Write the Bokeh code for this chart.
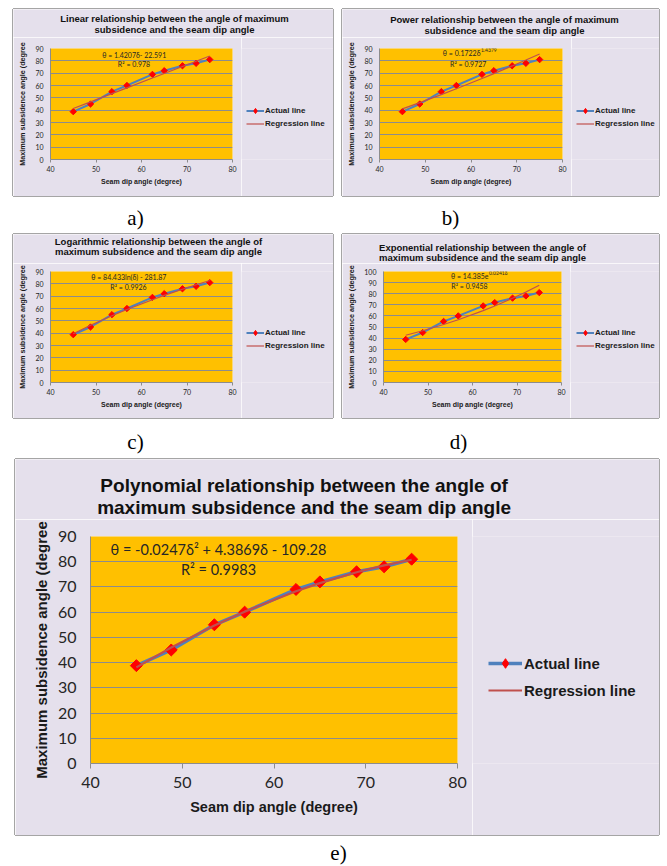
import math
from bokeh.plotting import figure
from bokeh.models import Range1d, FixedTicker, Label, Legend, LegendItem, Spacer, ColumnDataSource
from bokeh.layouts import column, row
from bokeh.embed import file_html
from bokeh.resources import INLINE

# ---------------- data ----------------
seam_dip = [45.0, 48.8, 53.5, 56.8, 62.4, 65.0, 69.0, 72.0, 75.0]
max_subsidence = [38.8, 45.0, 55.0, 60.0, 69.0, 72.0, 76.0, 78.0, 81.0]

# trend-line values at the same dip angles (from the equations shown on each chart)
reg_linear = [41.34, 46.74, 53.42, 58.11, 66.06, 69.75, 75.44, 79.70, 83.96]
reg_power = [41.04, 46.11, 52.63, 57.36, 65.66, 69.63, 75.87, 80.66, 85.54]
reg_log = [39.54, 46.38, 54.15, 59.20, 67.14, 70.59, 75.63, 79.22, 82.67]
reg_exp = [42.55, 46.63, 52.22, 56.55, 64.72, 68.91, 75.88, 81.57, 87.68]
reg_poly = [38.11, 45.98, 54.72, 60.21, 68.28, 71.51, 75.82, 78.54, 80.80]

x_ticks = [40, 50, 60, 70, 80]
y_ticks_90 = [0, 10, 20, 30, 40, 50, 60, 70, 80, 90]
y_ticks_100 = [0, 10, 20, 30, 40, 50, 60, 70, 80, 90, 100]

titles_a = ["Linear relationship between the angle of maximum", "subsidence and the seam dip angle"]
titles_b = ["Power relationship between the angle of maximum", "subsidence and the seam dip angle"]
titles_c = ["Logarithmic relationship between the angle of", "maximum subsidence and the seam dip angle"]
titles_d = ["Exponential relationship between the angle of", "maximum subsidence and the seam dip angle"]
titles_e = ["Polynomial relationship between the angle of", "maximum subsidence and the seam dip angle"]

x_label = "Seam dip angle (degree)"
y_label = "Maximum subsidence angle (degree"
legend_labels = ["Actual line", "Regression line"]
captions = ["a)", "b)", "c)", "d)", "e)"]

# ---------------- styles ----------------
YELLOW = "#FFC000"
LAVENDER = "#E5E0EC"
GRID = "#8C8C8C"
BLUE = "#4F81BD"
RED = "#FF0000"
REG = "#C0504D"
EDGE = "#A5A5A5"
SANS = "Liberation Sans"
TICKF = "Lato"
SERIF = "Liberation Serif"


def build(panel, frame, title_h, plot_right, ymax, yticks, reg, titles, title_pos, eqs,
          legend_pos, big):
    PL, PT, PW, PH = panel
    FL, FT, FR, FB = frame
    # ---------- title strip: page pixels used as data coordinates
    tf = figure(width=PW, height=title_h, x_range=Range1d(PL, PL + PW),
                y_range=Range1d(PT + title_h, PT), x_axis_type=None, y_axis_type=None,
                min_border=0, toolbar_location=None, output_backend="svg", title=None,
                outline_line_color=None, background_fill_color=LAVENDER,
                border_fill_color=LAVENDER,
                styles={"box-shadow": f"-1px 0 0 0 {EDGE}, 1px 0 0 0 {EDGE}, 0 -1px 0 0 {EDGE}"})
    tf.xgrid.visible = False
    tf.ygrid.visible = False
    tfs = "19px" if big else "9.5px"
    for txt, (X, Y) in zip(titles, title_pos):
        tf.add_layout(Label(x=X, y=Y, text=txt, text_align="center", text_baseline="middle",
                            text_font=SANS, text_font_style="bold", text_font_size=tfs,
                            text_color="#111111"))

    # ---------- chart
    top = PT + title_h
    bottom = PT + PH
    pw = plot_right - PL
    ph = bottom - top
    b_top, b_bot = FT - top, bottom - FB
    p = figure(width=pw, height=ph, x_range=Range1d(40, 80), y_range=Range1d(0, ymax),
               output_backend="svg", toolbar_location=None, title=None,
               min_border_left=FL - PL, min_border_top=b_top,
               min_border_right=plot_right - FR, min_border_bottom=b_bot,
               background_fill_color=YELLOW, border_fill_color=LAVENDER,
               outline_line_color=None,
               styles={"box-shadow": f"-1px 0 0 0 {EDGE}, 0 1px 0 0 {EDGE}"})

    fw, fh = FR - FL, FB - FT

    def dx(X):
        return 40 + (X - FL) / fw * 40

    def dy(Y):
        return (FB - Y) / fh * ymax

    p.xaxis.ticker = FixedTicker(ticks=x_ticks)
    p.yaxis.ticker = FixedTicker(ticks=yticks)
    p.xgrid.visible = False
    p.ygrid.grid_line_color = GRID
    p.ygrid.grid_line_width = 1
    for ax in (p.xaxis, p.yaxis):
        ax.axis_line_color = GRID
        ax.major_tick_line_color = GRID
        ax.minor_tick_line_color = None
        ax.major_tick_in = 0
        ax.major_label_text_font = TICKF
        ax.major_label_text_color = "#262626"
        ax.axis_label_text_font = SANS
        ax.axis_label_text_font_style = "bold"
        ax.axis_label_text_color = "#1a1a1a"
    p.yaxis.major_tick_out = 0
    p.xaxis.major_tick_out = 5 if big else 3
    p.xaxis.axis_label = x_label
    p.yaxis.axis_label = y_label
    if big:
        p.xaxis.major_label_text_font_size = "16px"
        p.yaxis.major_label_text_font_size = "16px"
        p.yaxis.major_label_standoff = 14
        p.xaxis.major_label_standoff = 8
        p.xaxis.axis_label_text_font_size = "14.5px"
        p.yaxis.axis_label_text_font_size = "15px"
        p.yaxis.axis_label_standoff = 5
        p.xaxis.axis_label_standoff = 8
    else:
        p.xaxis.major_label_text_font_size = "7px"
        p.yaxis.major_label_text_font_size = "7px"
        p.yaxis.major_label_standoff = 7
        p.xaxis.major_label_standoff = 3
        p.xaxis.axis_label_text_font_size = "7px"
        p.yaxis.axis_label_text_font_size = "7.2px"
        p.yaxis.axis_label_standoff = 5
        p.xaxis.axis_label_standoff = 3

    src = ColumnDataSource(dict(x=seam_dip, y=max_subsidence, reg=reg))
    act_w = 3.5 if big else 2
    reg_w = 2.2 if big else 1.2
    p.line("x", "y", source=src, line_color=BLUE, line_width=act_w)
    p.scatter("x", "y", source=src, marker="square", angle=math.pi / 4,
              size=8.5 if big else 4.5, fill_color=RED, line_color=RED)
    p.line("x", "reg", source=src, line_color=REG, line_width=reg_w)

    for (txt, X, Y, fs, align) in eqs:
        p.add_layout(Label(x=dx(X), y=dy(Y), text=txt, text_align=align, text_baseline="middle",
                           text_font=TICKF, text_font_size=fs, text_color="#262626"))

    # ---------- legend strip (same series, out of its view range; only the key shows)
    lw = PL + PW - plot_right
    lf = figure(width=lw, height=ph, x_range=Range1d(0, 1), y_range=Range1d(0, 1),
                x_axis_type=None, y_axis_type=None, toolbar_location=None, title=None,
                output_backend="svg", min_border_left=0, min_border_right=0,
                min_border_top=b_top, min_border_bottom=b_bot,
                outline_line_color=None, background_fill_color=LAVENDER,
                border_fill_color=LAVENDER,
                styles={"box-shadow": f"1px 0 0 0 {EDGE}, 0 1px 0 0 {EDGE}"})
    lf.xgrid.visible = False
    lf.ygrid.visible = False
    k_line = lf.line("x", "y", source=src, line_color=BLUE, line_width=act_w)
    k_mark = lf.scatter("x", "y", source=src, marker="diamond", fill_color=RED, line_color=RED)
    k_reg = lf.line("x", "reg", source=src, line_color=REG, line_width=reg_w)
    vx, vy = legend_pos
    leg = Legend(items=[LegendItem(label=legend_labels[0], renderers=[k_line, k_mark]),
                        LegendItem(label=legend_labels[1], renderers=[k_reg])],
                 location=(vx - plot_right, FB - vy), orientation="vertical",
                 border_line_color=None, background_fill_alpha=0.0,
                 padding=0, margin=0, spacing=3 if big else 0,
                 glyph_width=34 if big else 18, glyph_height=24 if big else 13,
                 label_height=24 if big else 13, label_standoff=2 if big else 1,
                 label_text_font=SANS, label_text_font_style="bold",
                 label_text_font_size="15px" if big else "8px", label_text_color="#1a1a1a")
    lf.add_layout(leg)
    return tf, p, lf


# legend_pos = (page x of key start, page y of key bottom)
ta, pa, la = build((13, 9, 320, 187), (50, 47, 232, 159), 28, 241, 90, y_ticks_90, reg_linear,
                   titles_a, [(174, 18.3), (174, 29.3)],
                   [("θ = 1.4207δ- 22.591", 133.7, 53.3, "7px", "center"),
                    ("R² = 0.978", 133.5, 62.7, "7px", "center")],
                   (246, 129.5), False)

tb, pb, lb = build((342, 9, 317, 187), (379, 48, 562, 160), 28, 571, 90, y_ticks_90, reg_power,
                   titles_b, [(504, 19), (504, 30)],
                   [("θ = 0.1722δ", 480, 52.5, "7px", "right"),
                    ("1.4379", 480.5, 50, "5px", "left"),
                    ("R² = 0.9727", 467.7, 63.5, "7px", "center")],
                   (576, 130.5), False)

tc, pc, lc = build((13, 234, 320, 184), (50, 270, 232, 382), 29, 241, 90, y_ticks_90, reg_log,
                   titles_c, [(158, 240.7), (158, 251)],
                   [("θ = 84.433ln(δ) - 281.87", 128.3, 276, "7px", "center"),
                    ("R² = 0.9926", 128, 286, "7px", "center")],
                   (246, 352.2), False)

td, pd_, ld = build((342, 234, 317, 184), (383, 271, 561, 383), 29, 570, 100, y_ticks_100,
                    reg_exp, titles_d, [(482, 246.7), (482, 257.3)],
                    [("θ = 14.385e", 488, 275.5, "7px", "right"),
                     ("0.0241δ", 488.5, 273, "5px", "left"),
                     ("R² = 0.9458", 469, 285.5, "7px", "center")],
                    (576, 353.2), False)

te, pe, le = build((15, 459, 644, 376), (90, 536, 457, 763), 60, 472, 90, y_ticks_90, reg_poly,
                   titles_e, [(303.6, 485), (303.6, 507)],
                   [("θ = -0.0247δ² + 4.3869δ - 109.28", 218, 549, "14.5px", "center"),
                    ("R² = 0.9983", 218, 569, "14.5px", "center")],
                   (488, 702), True)


def caption_fig(top, bottom, items):
    c = figure(width=659, height=bottom - top, x_range=Range1d(0, 659), y_range=Range1d(bottom, top),
               x_axis_type=None, y_axis_type=None, min_border=0, toolbar_location=None,
               output_backend="svg", outline_line_color=None, title=None,
               background_fill_alpha=0.0, border_fill_alpha=0.0)
    c.xgrid.visible = False
    c.ygrid.visible = False
    for txt, X, Y in items:
        c.add_layout(Label(x=X, y=Y, text=txt, text_align="center", text_baseline="middle",
                           text_font=SERIF, text_font_size="21px", text_color="#000000"))
    return c


cap1 = caption_fig(196, 234, [(captions[0], 135, 217), (captions[1], 450, 217)])
cap2 = caption_fig(418, 459, [(captions[2], 135, 441), (captions[3], 458, 441)])
cap3 = caption_fig(835, 866, [(captions[4], 338, 852)])

layout = column(
    Spacer(height=9, width=659),
    row(Spacer(width=13, height=28), ta, Spacer(width=9, height=28), tb),
    row(Spacer(width=13, height=159), pa, la, Spacer(width=9, height=159), pb, lb),
    cap1,
    row(Spacer(width=13, height=29), tc, Spacer(width=9, height=29), td),
    row(Spacer(width=13, height=155), pc, lc, Spacer(width=9, height=155), pd_, ld),
    cap2,
    row(Spacer(width=15, height=60), te),
    row(Spacer(width=15, height=316), pe, le),
    cap3,
)

open("out.html", "w").write(file_html(layout, INLINE))
